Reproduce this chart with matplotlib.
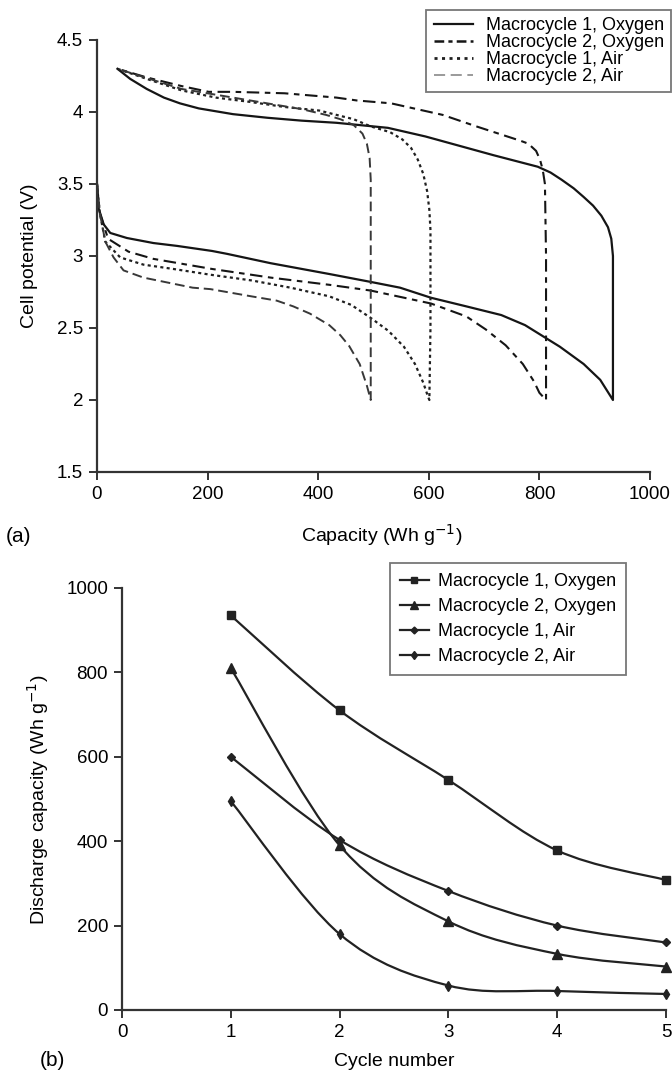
import numpy as np
import matplotlib
matplotlib.use("Agg")
import matplotlib.pyplot as plt
from matplotlib.path import Path
from matplotlib.patches import PathPatch
from matplotlib.lines import Line2D

plt.rcParams['font.family'] = ['Liberation Sans', 'DejaVu Sans']
plt.rcParams['lines.scale_dashes'] = False

# ---- panel (a): charge / discharge profiles (capacity Wh/g, potential V)
o1_x = [0, 3, 12, 24, 54, 102, 145, 208, 235, 314, 420, 495, 548, 604, 668, 731, 774, 837, 880, 910, 933,
        933, 933, 930, 924, 912, 897, 880, 862, 840, 820, 797, 717, 594, 526, 433, 370, 308, 246, 184, 150,
        121, 90, 60, 37]
o1_y = [3.5, 3.33, 3.22, 3.16, 3.125, 3.09, 3.07, 3.035, 3.015, 2.95, 2.875, 2.82, 2.78, 2.71, 2.65, 2.59, 2.52, 2.37, 2.25, 2.14, 2.0,
        2.5, 3.0, 3.12, 3.2, 3.28, 3.35, 3.41, 3.47, 3.53, 3.58, 3.62, 3.70, 3.83, 3.89, 3.925, 3.94, 3.96, 3.985, 4.025, 4.06,
        4.10, 4.16, 4.23, 4.30]

o2_x = [0, 5, 20, 57, 102, 208, 314, 420, 495, 604, 668, 703, 739, 770, 790, 800, 812,
        812, 810, 806, 801, 794, 780, 766, 686, 625, 532, 470, 433, 339, 246, 202, 153, 90, 37]
o2_y = [3.5, 3.3, 3.12, 3.03, 2.98, 2.91, 2.85, 2.80, 2.76, 2.67, 2.58, 2.49, 2.38, 2.25, 2.13, 2.05, 2.0,
        3.0, 3.5, 3.60, 3.67, 3.73, 3.78, 3.80, 3.90, 3.98, 4.06, 4.08, 4.10, 4.13, 4.14, 4.14, 4.18, 4.24, 4.30]

a1_x = [0, 5, 15, 42, 84, 138, 205, 280, 350, 420, 460, 495, 527, 555, 575, 590, 598, 601,
        603, 603, 601, 597, 590, 580, 568, 552, 530, 495, 464, 402, 339, 277, 215, 153, 90, 37]
a1_y = [3.5, 3.3, 3.1, 2.99, 2.94, 2.91, 2.87, 2.83, 2.78, 2.72, 2.66, 2.57, 2.48, 2.37, 2.25, 2.12, 2.03, 2.0,
        2.5, 3.18, 3.32, 3.45, 3.57, 3.67, 3.75, 3.81, 3.86, 3.90, 3.95, 4.01, 4.035, 4.07, 4.10, 4.15, 4.23, 4.30]

a2_x = [0, 5, 15, 30, 48, 84, 173, 205, 279, 325, 355, 385, 420, 440, 456, 475, 488, 495,
        495, 495, 493, 488, 480, 464, 440, 414, 370, 277, 153, 37]
a2_y = [3.5, 3.3, 3.1, 2.99, 2.90, 2.85, 2.78, 2.77, 2.72, 2.69, 2.65, 2.60, 2.52, 2.45, 2.375, 2.25, 2.1, 2.0,
        3.0, 3.53, 3.68, 3.78, 3.85, 3.91, 3.95, 3.98, 4.02, 4.08, 4.16, 4.30]

labels = ['Macrocycle 1, Oxygen', 'Macrocycle 2, Oxygen', 'Macrocycle 1, Air', 'Macrocycle 2, Air']

# ---- panel (b): discharge capacity per cycle
cycles = [1, 2, 3, 4, 5]
cap_o1 = [935, 710, 545, 378, 308]
cap_o2 = [810, 390, 210, 133, 103]
cap_a1 = [600, 403, 282, 200, 160]
cap_a2 = [495, 180, 58, 45, 38]

W, H = 672, 1073
fig = plt.figure(figsize=(W / 100, H / 100), dpi=100)


def fx(px):
    return px / W


def fy(py):
    return 1 - py / H


def style_axes(ax):
    for s in ['top', 'right']:
        ax.spines[s].set_visible(False)
    for s in ['left', 'bottom']:
        ax.spines[s].set_linewidth(1.6)
        ax.spines[s].set_color('#333333')
    ax.tick_params(direction='out', length=6, width=1.4, color='#333333',
                   labelsize=13.5, pad=4)


# (a)
ax1 = fig.add_axes([fx(97), fy(472), 553 / W, (472 - 40) / H])
style_axes(ax1)
ax1.plot(o1_x, o1_y, color='#151515', lw=1.6)
ax1.plot(o2_x, o2_y, color='#151515', lw=1.5, ls=(0, (9, 4, 4, 4)))
ax1.plot(a1_x, a1_y, color='#202020', lw=1.6, ls=(0, (2.2, 2.4)))
ax1.plot(a2_x, a2_y, color='#383838', lw=1.4, ls=(0, (7, 3.5)))
ax1.set_xlim(0, 1000)
ax1.set_ylim(1.5, 4.5)
ax1.set_xticks([0, 200, 400, 600, 800, 1000])
ax1.set_yticks([1.5, 2, 2.5, 3, 3.5, 4, 4.5])
ax1.set_yticklabels(['1.5', '2', '2.5', '3', '3.5', '4', '4.5'])

h1 = [Line2D([], [], color='#151515', lw=1.6),
      Line2D([], [], color='#151515', lw=1.8, ls=(0, (7, 3, 3, 3))),
      Line2D([], [], color='#202020', lw=2.0, ls=(0, (2.2, 3.2))),
      Line2D([], [], color='#9a9a9a', lw=1.4, ls=(0, (8, 4)))]
leg1 = ax1.legend(h1, labels, loc='upper right', bbox_to_anchor=(0.999, fy(10)),
                  bbox_transform=fig.transFigure, borderaxespad=0, fontsize=13, frameon=True,
                  fancybox=False, labelspacing=0.0, handlelength=2.2, handletextpad=0.7,
                  borderpad=0.4)
leg1.get_frame().set_edgecolor('#555555')
leg1.get_frame().set_linewidth(1.3)

fig.text(fx(30), fy(256), 'Cell potential (V)', fontsize=14, rotation=90, ha='center', va='center')
fig.text(fx(382), fy(535), 'Capacity (Wh g$^{-1}$)', fontsize=14, ha='center', va='center')
fig.text(fx(6), fy(537), '(a)', fontsize=15, va='center', ha='left')

# (b)
ax2 = fig.add_axes([fx(122), fy(1010), 544 / W, (1010 - 588) / H])
style_axes(ax2)


def smooth_path(x, y):
    pts = np.column_stack([x, y]).astype(float)
    verts = [pts[0]]
    codes = [Path.MOVETO]
    n = len(pts)
    for i in range(n - 1):
        p0 = pts[i - 1] if i > 0 else pts[i]
        p1, p2 = pts[i], pts[i + 1]
        p3 = pts[i + 2] if i + 2 < n else pts[i + 1]
        verts += [p1 + (p2 - p0) / 6, p2 - (p3 - p1) / 6, p2]
        codes += [Path.CURVE4] * 3
    return Path(verts, codes)


series = [(cap_o1, 's', 5.5), (cap_o2, '^', 6.5), (cap_a1, 'D', 4.5), (cap_a2, 'd', 5.5)]
handles = []
for (vals, mk, ms), lab in zip(series, labels):
    ax2.add_patch(PathPatch(smooth_path(cycles, vals), fill=False, edgecolor='#222222', lw=1.6,
                            clip_on=False))
    ax2.plot(cycles, vals, ls='none', marker=mk, ms=ms, color='#222222', clip_on=False)
    handles.append(Line2D([], [], color='#222222', lw=1.6, marker=mk, ms=ms - 1, label=lab))

ax2.set_xlim(0, 5)
ax2.set_ylim(0, 1000)
ax2.set_xticks([0, 1, 2, 3, 4, 5])
ax2.set_yticks([0, 200, 400, 600, 800, 1000])
leg2 = ax2.legend(handles=handles, loc='upper left', bbox_to_anchor=(fx(390), fy(563)),
                  bbox_transform=fig.transFigure, borderaxespad=0, fontsize=13, fancybox=False,
                  labelspacing=0.45, handlelength=1.6, handletextpad=0.5, borderpad=0.55)
leg2.get_frame().set_edgecolor('#555555')
leg2.get_frame().set_linewidth(1.3)

fig.text(fx(38), fy(800), 'Discharge capacity (Wh g$^{-1}$)', fontsize=14, rotation=90,
         ha='center', va='center')
fig.text(fx(394), fy(1061), 'Cycle number', fontsize=14, ha='center', va='center')
fig.text(fx(40), fy(1061), '(b)', fontsize=15, va='center', ha='left')

fig.savefig('out.png', dpi=100)
